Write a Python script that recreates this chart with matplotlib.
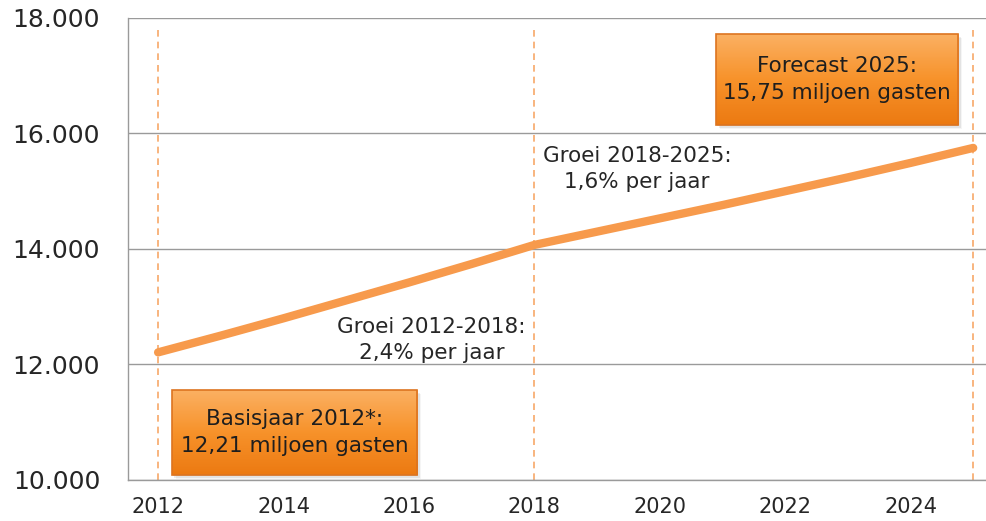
import numpy as np
import matplotlib
matplotlib.use("Agg")
import matplotlib.pyplot as plt
from matplotlib.patches import Rectangle
from matplotlib.ticker import FuncFormatter

# gasten (x 1.000) per jaar
years = [2012, 2013, 2014, 2015, 2016, 2017, 2018,
         2019, 2020, 2021, 2022, 2023, 2024, 2025]
guests = [12210, 12500, 12800, 13110, 13420, 13740, 14070,
          14300, 14530, 14760, 15000, 15240, 15490, 15750]
marker_years = [2012, 2018, 2025]
x_ticks = [2012, 2014, 2016, 2018, 2020, 2022, 2024]
y_ticks = [10000, 12000, 14000, 16000, 18000]

LINE = "#F79A4C"
GRID = "#9a9a9a"
TXT = "#262626"

plt.rcParams["font.family"] = ["DejaVu Sans"]
fig = plt.figure(figsize=(9.87, 5.21), dpi=100)
ax = fig.add_axes([0.1297, 0.0787, 0.8703, 0.8868])

for yr in marker_years:
    ax.plot([yr, yr], [10000, 17880], color="#F7A868", linestyle=(0, (4, 3)),
            linewidth=1.2, zorder=1)

ax.plot(years, guests, color=LINE, linewidth=6, solid_capstyle="round", zorder=3)

ax.set_xticks(x_ticks)
ax.set_yticks(y_ticks)
ax.yaxis.set_major_formatter(FuncFormatter(lambda v, p: f"{int(v):,}".replace(",", ".")))
ax.tick_params(axis="y", length=0, pad=20, labelsize=18, labelcolor=TXT)
ax.tick_params(axis="x", length=0, pad=12, labelsize=15, labelcolor=TXT)
ax.grid(axis="y", color=GRID, linewidth=1, zorder=0)
for s in ["top", "right"]:
    ax.spines[s].set_visible(False)
for s in ["left", "bottom"]:
    ax.spines[s].set_color(GRID)
    ax.spines[s].set_linewidth(1)


def orange_box(x0, x1, y0, y1, lines):
    # zachte schaduw
    for k, a in enumerate([0.10, 0.07, 0.04]):
        d = 0.02 * (k + 1)
        ax.add_patch(Rectangle((x0 + d, y0 - 25 * (k + 1)), x1 - x0, y1 - y0,
                               facecolor="#000000", alpha=a, linewidth=0, zorder=4))
    grad = np.linspace(0, 1, 64).reshape(-1, 1)
    cmap = matplotlib.colors.LinearSegmentedColormap.from_list(
        "o", ["#FBB062", "#F7922A", "#EC7A12"])
    ax.imshow(grad, extent=(x0, x1, y0, y1), origin="upper", cmap=cmap,
              aspect="auto", zorder=5)
    ax.add_patch(Rectangle((x0, y0), x1 - x0, y1 - y0, facecolor="none",
                           edgecolor="#DD7420", linewidth=1.2, zorder=6))
    ax.text((x0 + x1) / 2, (y0 + y1) / 2, lines, ha="center", va="center",
            fontsize=15.5, color="#1e1e1e", linespacing=1.4, zorder=7)


orange_box(2020.9, 2024.76, 16150, 17720, "Forecast 2025:\n15,75 miljoen gasten")
orange_box(2012.22, 2016.13, 10090, 11560, "Basisjaar 2012*:\n12,21 miljoen gasten")

ax.text(2019.64, 15380, "Groei 2018-2025:\n1,6% per jaar", ha="center", va="center",
        fontsize=15.5, color=TXT, linespacing=1.4, zorder=7)
ax.text(2016.36, 12420, "Groei 2012-2018:\n2,4% per jaar", ha="center", va="center",
        fontsize=15.5, color=TXT, linespacing=1.4, zorder=7)

ax.set_xlim(2011.52, 2025.22)
ax.set_ylim(10000, 18000)

fig.savefig("out.png", dpi=100)
